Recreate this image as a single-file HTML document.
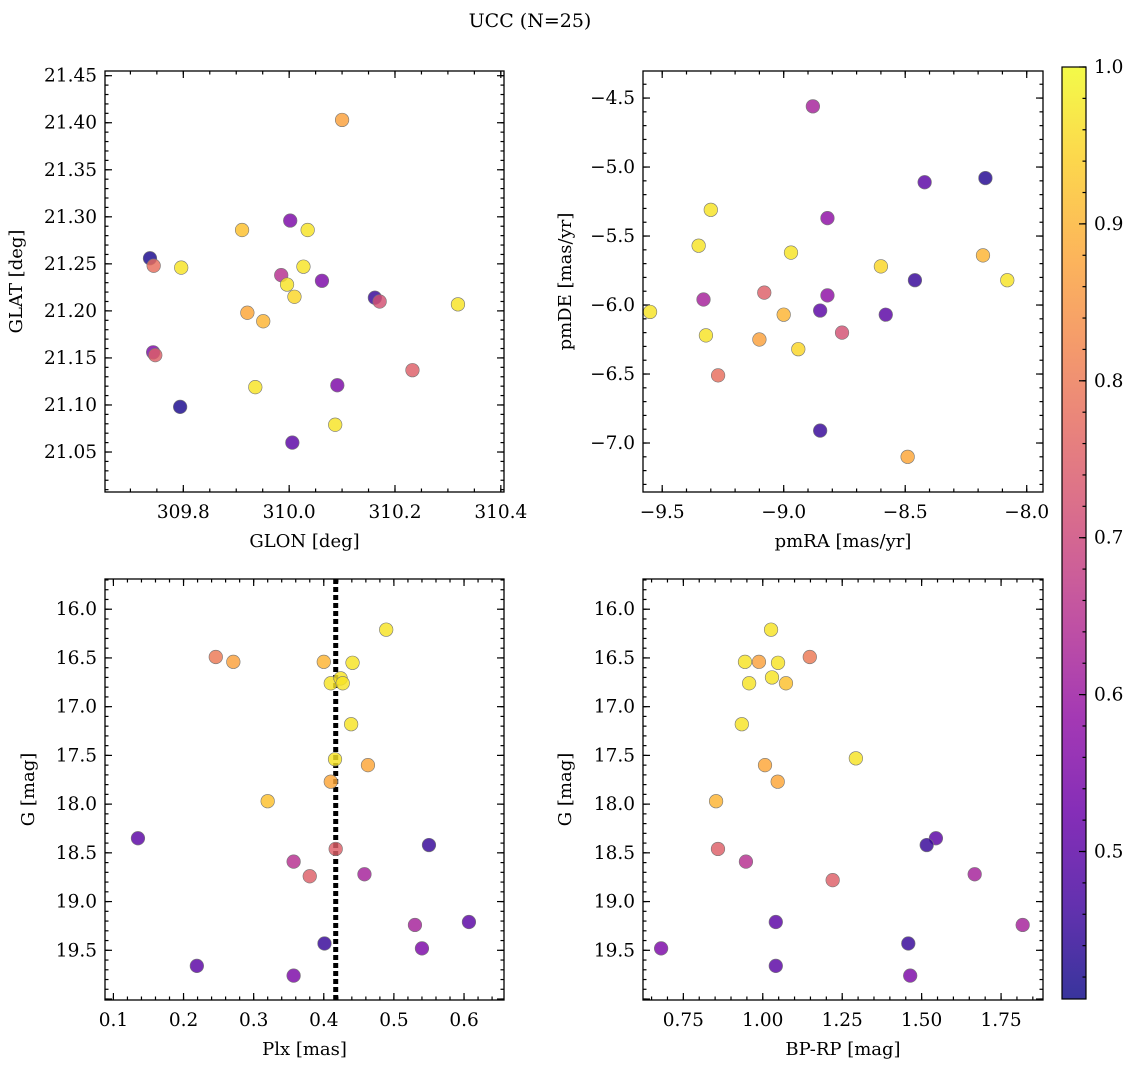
<!DOCTYPE html>
<html><head><meta charset="utf-8"><style>
body{margin:0;background:#fff}
svg{display:block;font-family:"DejaVu Serif","Liberation Serif",serif}
text{font-family:"DejaVu Serif","Liberation Serif",serif}
</style></head><body>
<svg id="fig" width="1136" height="1067" viewBox="0 0 1136 1067">
<rect width="1136" height="1067" fill="#fff"/>
<text x="530" y="27" font-size="19" text-anchor="middle">UCC (N=25)</text>
</svg>
<script>
// Panel 1: GLON / GLAT
const p1X=[309.737,309.744,309.796,309.911,309.921,309.951,309.985,309.996,310.002,310.010,310.027,310.035,310.062,310.100,310.162,310.171,310.233,310.319,309.743,309.747,309.794,309.936,310.091,310.087,310.006];
const p1Y=[21.256,21.248,21.246,21.286,21.198,21.189,21.238,21.228,21.296,21.215,21.247,21.286,21.232,21.403,21.214,21.210,21.137,21.207,21.156,21.153,21.098,21.119,21.121,21.079,21.060];
const p1C=[0.42,0.78,0.97,0.92,0.88,0.9,0.65,0.97,0.55,0.95,0.97,0.97,0.55,0.87,0.45,0.72,0.75,0.97,0.55,0.75,0.42,0.97,0.55,0.97,0.5];
// Panel 2: pmRA / pmDE
const p2X=[-8.88,-8.42,-8.17,-9.30,-8.82,-9.35,-8.97,-8.60,-8.18,-8.08,-8.46,-9.08,-9.33,-8.82,-9.55,-9.00,-8.85,-8.58,-8.76,-9.32,-9.10,-8.94,-9.27,-8.85,-8.49];
const p2Y=[-4.56,-5.11,-5.08,-5.31,-5.37,-5.57,-5.62,-5.72,-5.64,-5.82,-5.82,-5.91,-5.96,-5.93,-6.05,-6.07,-6.04,-6.07,-6.20,-6.22,-6.25,-6.32,-6.51,-6.91,-7.10];
const p2C=[0.62,0.5,0.43,0.97,0.58,0.97,0.97,0.95,0.9,0.97,0.45,0.75,0.62,0.58,0.97,0.9,0.5,0.5,0.72,0.97,0.87,0.95,0.78,0.45,0.88];
// Panel 3: Plx / G
const p3X=[0.489,0.246,0.271,0.400,0.441,0.410,0.424,0.427,0.439,0.416,0.463,0.410,0.320,0.135,0.550,0.417,0.357,0.380,0.458,0.530,0.607,0.401,0.540,0.219,0.357];
const p3Y=[16.21,16.49,16.54,16.54,16.55,16.76,16.71,16.76,17.18,17.54,17.60,17.77,17.97,18.35,18.42,18.46,18.59,18.74,18.72,19.24,19.21,19.43,19.48,19.66,19.76];
const p3C=[0.97,0.8,0.87,0.9,0.97,0.97,0.97,0.97,0.97,0.97,0.88,0.88,0.92,0.5,0.45,0.75,0.65,0.75,0.62,0.62,0.5,0.45,0.55,0.5,0.55];
const plxMedian=0.417;
// Panel 4: BP-RP / G
const p4X=[1.026,1.148,0.944,0.988,1.048,0.957,1.029,1.073,0.934,1.293,1.007,1.047,0.853,1.545,1.516,0.859,0.947,1.220,1.667,1.818,1.041,1.458,0.680,1.041,1.464];
const p4Y=[16.21,16.49,16.54,16.54,16.55,16.76,16.70,16.76,17.18,17.53,17.60,17.77,17.97,18.35,18.42,18.46,18.59,18.78,18.72,19.24,19.21,19.43,19.48,19.66,19.76];
const p4C=[0.97,0.8,0.97,0.87,0.97,0.97,0.97,0.92,0.97,0.97,0.88,0.88,0.9,0.5,0.45,0.75,0.65,0.75,0.62,0.62,0.5,0.45,0.55,0.5,0.55];
const p1Ticks=[309.8,310.0,310.2,310.4], p1YTicks=[21.05,21.10,21.15,21.20,21.25,21.30,21.35,21.40,21.45];
const p2Ticks=[-9.5,-9.0,-8.5,-8.0], p2YTicks=[-7.0,-6.5,-6.0,-5.5,-5.0,-4.5];
const p3Ticks=[0.1,0.2,0.3,0.4,0.5,0.6], gTicks=[16.0,16.5,17.0,17.5,18.0,18.5,19.0,19.5];
const p4Ticks=[0.75,1.00,1.25,1.50,1.75];
const cbTicks=[0.5,0.6,0.7,0.8,0.9,1.0];
const cMin=0.406,cMax=1.0;

const NS="http://www.w3.org/2000/svg";
const svg=document.getElementById('fig');
function mk(tag,attrs,parent){const e=document.createElementNS(NS,tag);for(const k in attrs)e.setAttribute(k,attrs[k]);(parent||svg).appendChild(e);return e;}
const stops=['#0d0887','#41049d','#6a00a8','#8f0da4','#b12a90','#cc4778','#e16462','#f2844b','#fca636','#fcce25','#f0f921'];
function hx(h){return [1,3,5].map(i=>parseInt(h.substr(i,2),16));}
function plasma(t){t=Math.max(0,Math.min(1,t));const f=t*10,i=Math.min(9,Math.floor(f)),r=f-i;const a=hx(stops[i]),b=hx(stops[i+1]);return 'rgb('+a.map((v,k)=>Math.round(v+(b[k]-v)*r)).join(',')+')';}
function fmt(v,d){return (v<0?'\u2212':'')+Math.abs(v).toFixed(d);}
const FS=18.5, LS=18;
function panel(o){
  const {name,L,R,T,B,x0,x1,y0,y1,inv}=o;
  const sx=v=>L+(v-x0)/(x1-x0)*(R-L);
  const sy=v=>inv? T+(v-y0)/(y1-y0)*(B-T) : B-(v-y0)/(y1-y0)*(B-T);
  const g=mk('g',{});
  
  
  const tk=(a,b,step,isX,len)=>{const s=Math.ceil(a/step-1e-6);for(let k=s;k*step<=b+1e-9;k++){const v=k*step;if(isX){const x=sx(v);mk('line',{x1:x,x2:x,y1:B,y2:B-len,stroke:'#000','stroke-width':1.2},g);mk('line',{x1:x,x2:x,y1:T,y2:T+len,stroke:'#000','stroke-width':1.2},g);}else{const y=sy(v);mk('line',{x1:L,x2:L+len,y1:y,y2:y,stroke:'#000','stroke-width':1.2},g);mk('line',{x1:R,x2:R-len,y1:y,y2:y,stroke:'#000','stroke-width':1.2},g);}}};
  tk(x0,x1,o.xmin,true,3.5);tk(x0,x1,o.xmaj,true,7);
  tk(Math.min(y0,y1),Math.max(y0,y1),o.ymin,false,3.5);tk(Math.min(y0,y1),Math.max(y0,y1),o.ymaj,false,7);
  o.xt.forEach(v=>{const t=mk('text',{x:sx(v),y:B+26,'font-size':FS,'text-anchor':'middle'},g);t.textContent=fmt(v,o.xd);});
  o.yt.forEach(v=>{const t=mk('text',{x:L-8,y:sy(v)+6,'font-size':FS,'text-anchor':'end'},g);t.textContent=fmt(v,o.yd);});
  const xl=mk('text',{x:(L+R)/2,y:B+55,'font-size':LS,'text-anchor':'middle'},g);xl.textContent=o.xlab;
  
  const cy=(T+B)/2, lx=o.ylx;
  const yl=mk('text',{x:lx,y:cy,'font-size':LS,'text-anchor':'middle',transform:`rotate(-90 ${lx} ${cy})`},g);yl.textContent=o.ylab;
  
  if(o.vline!==undefined){const l=mk('line',{x1:sx(o.vline),x2:sx(o.vline),y1:T,y2:B,stroke:'#000','stroke-width':5,'stroke-dasharray':'5,3'},g);}
  o.X.forEach((v,i)=>{const c=mk('circle',{cx:sx(v),cy:sy(o.Y[i]),r:6.8,fill:plasma((o.C[i]-cMin)/(cMax-cMin)),'fill-opacity':0.82,stroke:'#777','stroke-width':0.6},g);
    });
  mk('rect',{x:L,y:T,width:R-L,height:B-T,fill:'none',stroke:'#000','stroke-width':1.3},g);
}
panel({name:'glon-glat-panel',L:105,R:504,T:71,B:492,x0:309.652,x1:310.406,y0:21.0075,y1:21.455,xmaj:0.2,xmin:0.05,ymaj:0.05,ymin:0.01,xt:p1Ticks,yt:p1YTicks,xd:1,yd:2,X:p1X,Y:p1Y,C:p1C,xlab:'GLON [deg]',ylab:'GLAT [deg]',ylx:22});
panel({name:'pm-panel',L:643,R:1043,T:71,B:492,x0:-9.579,x1:-7.933,y0:-7.355,y1:-4.304,xmaj:0.5,xmin:0.1,ymaj:0.5,ymin:0.1,xt:p2Ticks,yt:p2YTicks,xd:1,yd:1,X:p2X,Y:p2Y,C:p2C,xlab:'pmRA [mas/yr]',ylab:'pmDE [mas/yr]',ylx:571});
panel({name:'plx-g-panel',L:105,R:504,T:579,B:1000,x0:0.088,x1:0.657,y0:15.69,y1:20.01,inv:true,xmaj:0.1,xmin:0.02,ymaj:0.5,ymin:0.1,xt:p3Ticks,yt:gTicks,xd:1,yd:1,X:p3X,Y:p3Y,C:p3C,xlab:'Plx [mas]',ylab:'G [mag]',ylx:34,vline:plxMedian});
panel({name:'cmd-panel',L:643,R:1043,T:579,B:1000,x0:0.623,x1:1.882,y0:15.69,y1:20.01,inv:true,xmaj:0.25,xmin:0.05,ymaj:0.5,ymin:0.1,xt:p4Ticks,yt:gTicks,xd:2,yd:1,X:p4X,Y:p4Y,C:p4C,xlab:'BP-RP [mag]',ylab:'G [mag]',ylx:571});
const cb=mk('g',{});


const defs=mk('defs',{},cb);const lg=mk('linearGradient',{id:'pl',x1:0,y1:1,x2:0,y2:0},defs);
for(let i=0;i<=20;i++){mk('stop',{offset:i/20,'stop-color':plasma(i/20),'stop-opacity':0.82},lg);}
const cT=67,cB=999,cL=1062,cR=1086;
mk('rect',{x:cL,y:cT,width:cR-cL,height:cB-cT,fill:'url(#pl)',stroke:'#000','stroke-width':1.2},cb);
const cy=v=>cB-(v-cMin)/(cMax-cMin)*(cB-cT);
for(let k=21;k<=50;k++){const v=k*0.02;if(v<cMin)continue;mk('line',{x1:cR,x2:cR-3.5,y1:cy(v),y2:cy(v),stroke:'#000','stroke-width':1.2},cb);}
cbTicks.forEach(v=>{mk('line',{x1:cR,x2:cR-7,y1:cy(v),y2:cy(v),stroke:'#000','stroke-width':1.2},cb);const t=mk('text',{x:cR+8,y:cy(v)+6,'font-size':FS},cb);t.textContent=v.toFixed(1);
});
</script>
</body></html>
